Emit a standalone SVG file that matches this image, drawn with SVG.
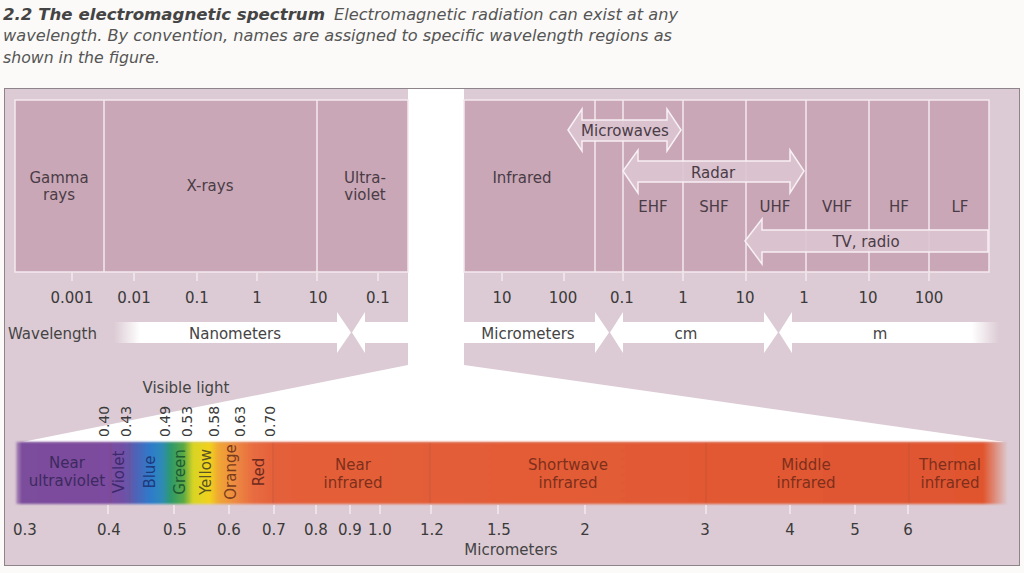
<svg xmlns="http://www.w3.org/2000/svg" width="1024" height="573" viewBox="0 0 1024 573">
<style>
.cap{font-family:"DejaVu Sans","Liberation Sans",sans-serif;font-style:italic;font-size:15px;fill:#555}
.capb{font-family:"DejaVu Sans","Liberation Sans",sans-serif;font-style:italic;font-weight:bold;font-size:15px;fill:#444}
.lb{font-family:"DejaVu Sans","Liberation Sans",sans-serif;font-size:15px;fill:#4a3c46;text-anchor:middle}
.num{font-family:"DejaVu Sans","Liberation Sans",sans-serif;font-size:15px;fill:#3a3a3a;text-anchor:middle}
.rnum{font-family:"DejaVu Sans","Liberation Sans",sans-serif;font-size:14px;fill:#3a3a3a}
.bl{font-family:"DejaVu Sans","Liberation Sans",sans-serif;font-size:15px;text-anchor:middle}
.box{fill:#c9a7b6;stroke:#f3e9ee;stroke-width:1.5}
.div{stroke:#f3e9ee;stroke-width:1.5}
.arr{fill:#dcc5d1;fill-opacity:0.9;stroke:#f7f0f4;stroke-width:1.5}
.tick{stroke:#f5eef2;stroke-width:1.3}
.wb{fill:#fff}
.sep{stroke:#8a4a40;stroke-opacity:0.25;stroke-width:1}
</style>
<defs>
<linearGradient id="spec" gradientUnits="userSpaceOnUse" x1="18" y1="0" x2="1006" y2="0">
<stop offset="0" stop-color="#7b4d9c"/>
<stop offset="0.0911" stop-color="#7d4c9f"/>
<stop offset="0.108" stop-color="#6f51a6"/>
<stop offset="0.119" stop-color="#4f62b6"/>
<stop offset="0.134" stop-color="#2f7bcb"/>
<stop offset="0.146" stop-color="#2f8bb5"/>
<stop offset="0.155" stop-color="#2e9a6a"/>
<stop offset="0.168" stop-color="#5daa44"/>
<stop offset="0.177" stop-color="#d8d424"/>
<stop offset="0.194" stop-color="#f2d21e"/>
<stop offset="0.203" stop-color="#f0a634"/>
<stop offset="0.222" stop-color="#ec8642"/>
<stop offset="0.238" stop-color="#e86c40"/>
<stop offset="0.26" stop-color="#e4603a"/>
<stop offset="1" stop-color="#e0552f"/>
</linearGradient>
<linearGradient id="fadeMask" gradientUnits="userSpaceOnUse" x1="14" y1="0" x2="1008" y2="0">
<stop offset="0" stop-color="#fff" stop-opacity="0.3"/>
<stop offset="0.008" stop-color="#fff" stop-opacity="1"/>
<stop offset="0.975" stop-color="#fff" stop-opacity="1"/>
<stop offset="1" stop-color="#fff" stop-opacity="0"/>
</linearGradient>
<mask id="barMask" maskUnits="userSpaceOnUse" x="0" y="430" width="1024" height="90">
<rect x="14" y="430" width="994" height="90" fill="url(#fadeMask)"/>
</mask>
<filter id="soft" x="-0.02" y="-0.1" width="1.04" height="1.2">
<feGaussianBlur stdDeviation="0.8"/>
</filter>
<linearGradient id="nmFade" gradientUnits="userSpaceOnUse" x1="114" y1="0" x2="140" y2="0">
<stop offset="0" stop-color="#fff" stop-opacity="0"/>
<stop offset="1" stop-color="#fff" stop-opacity="1"/>
</linearGradient>
<linearGradient id="mFade" gradientUnits="userSpaceOnUse" x1="972" y1="0" x2="999" y2="0">
<stop offset="0" stop-color="#fff" stop-opacity="1"/>
<stop offset="1" stop-color="#fff" stop-opacity="0"/>
</linearGradient>
</defs>

<rect width="1024" height="573" fill="#fbfaf8"/>

<g id="caption">
<text class="capb" x="3" y="20" textLength="322" lengthAdjust="spacingAndGlyphs">2.2  The electromagnetic spectrum</text>
<text class="cap" x="334" y="20" textLength="344" lengthAdjust="spacingAndGlyphs">Electromagnetic radiation can exist at any</text>
<text class="cap" x="3" y="41" textLength="669" lengthAdjust="spacingAndGlyphs">wavelength. By convention, names are assigned to specific wavelength regions as</text>
<text class="cap" x="3" y="63" textLength="157" lengthAdjust="spacingAndGlyphs">shown in the figure.</text>
</g>

<g id="panel">
<rect x="4.5" y="88.5" width="1015" height="477" fill="#dccbd4" stroke="#8c8488" stroke-width="1"/>
</g>

<g id="fan">
<polygon points="408,89 464,89 464,365 1005,442 22,442 408,365" fill="#ffffff"/>
</g>

<g id="band-short">
<rect class="box" x="15" y="100" width="393" height="172"/>
<line class="div" x1="104" y1="100" x2="104" y2="272"/>
<line class="div" x1="317" y1="100" x2="317" y2="272"/>
<text class="lb" x="59" y="183">Gamma</text>
<text class="lb" x="59" y="200">rays</text>
<text class="lb" x="210" y="191">X-rays</text>
<text class="lb" x="365" y="183">Ultra-</text>
<text class="lb" x="365" y="200">violet</text>
</g>

<g id="band-long">
<rect class="box" x="464" y="100" width="525" height="172"/>
<line class="div" x1="595" y1="100" x2="595" y2="272"/>
<line class="div" x1="623" y1="100" x2="623" y2="272"/>
<line class="div" x1="683" y1="100" x2="683" y2="272"/>
<line class="div" x1="746" y1="100" x2="746" y2="272"/>
<line class="div" x1="806" y1="100" x2="806" y2="272"/>
<line class="div" x1="869" y1="100" x2="869" y2="272"/>
<line class="div" x1="929" y1="100" x2="929" y2="272"/>
<text class="lb" x="522" y="183">Infrared</text>
<text class="lb" x="653" y="212">EHF</text>
<text class="lb" x="714" y="212">SHF</text>
<text class="lb" x="775" y="212">UHF</text>
<text class="lb" x="837" y="212">VHF</text>
<text class="lb" x="899" y="212">HF</text>
<text class="lb" x="960" y="212">LF</text>
</g>

<g id="connectors">
<g id="microwaves">
<polygon class="arr" points="568,130 582,109 582,120 667,120 667,109 681,130 667,151 667,141 582,141 582,151"/>
<text class="lb" x="625" y="136">Microwaves</text>
</g>
<g id="radar">
<polygon class="arr" points="623,171 638,150 638,161 790,161 790,150 804,171 790,193 790,182 638,182 638,193"/>
<text class="lb" x="713" y="178">Radar</text>
</g>
<g id="tvradio">
<polygon class="arr" points="745,241 762,219 762,230 988,230 988,252 762,252 762,264"/>
<text class="lb" x="866" y="247">TV, radio</text>
</g>
</g>

<g id="top-ticks">
<line class="tick" x1="72" y1="273" x2="72" y2="281"/>
<line class="tick" x1="134" y1="273" x2="134" y2="281"/>
<line class="tick" x1="197" y1="273" x2="197" y2="281"/>
<line class="tick" x1="257" y1="273" x2="257" y2="281"/>
<line class="tick" x1="317" y1="273" x2="317" y2="281"/>
<line class="tick" x1="378" y1="273" x2="378" y2="281"/>
<line class="tick" x1="502" y1="273" x2="502" y2="281"/>
<line class="tick" x1="564" y1="273" x2="564" y2="281"/>
<line class="tick" x1="623" y1="273" x2="623" y2="281"/>
<line class="tick" x1="683" y1="273" x2="683" y2="281"/>
<line class="tick" x1="746" y1="273" x2="746" y2="281"/>
<line class="tick" x1="806" y1="273" x2="806" y2="281"/>
<line class="tick" x1="869" y1="273" x2="869" y2="281"/>
<line class="tick" x1="929" y1="273" x2="929" y2="281"/>
</g>

<g id="wavelength-numbers">
<text class="num" x="72" y="303">0.001</text>
<text class="num" x="134" y="303">0.01</text>
<text class="num" x="197" y="303">0.1</text>
<text class="num" x="257" y="303">1</text>
<text class="num" x="318" y="303">10</text>
<text class="num" x="378" y="303">0.1</text>
<text class="num" x="502" y="303">10</text>
<text class="num" x="563" y="303">100</text>
<text class="num" x="622" y="303">0.1</text>
<text class="num" x="683" y="303">1</text>
<text class="num" x="745" y="303">10</text>
<text class="num" x="804" y="303">1</text>
<text class="num" x="868" y="303">10</text>
<text class="num" x="929" y="303">100</text>
</g>

<g id="units-row">
<polygon points="114,322 337,322 337,312 351,332.5 337,353 337,343 114,343" fill="url(#nmFade)"/>
<polygon class="wb" points="409,322 365,322 365,312 352,332.5 365,353 365,343 409,343"/>
<polygon class="wb" points="463,322 595,322 595,312 609,332.5 595,353 595,343 463,343"/>
<polygon class="wb" points="764,322 623,322 623,312 610,332.5 623,353 623,343 764,343 764,353 778,332.5 764,312"/>
<polygon points="999,322 792,322 792,312 779,332.5 792,353 792,343 999,343" fill="url(#mFade)"/>
<text class="num" x="8" y="339" style="text-anchor:start;fill:#444">Wavelength</text>
<text class="num" x="235" y="339" style="fill:#444">Nanometers</text>
<text class="num" x="528" y="339" style="fill:#444">Micrometers</text>
<text class="num" x="686" y="339" style="fill:#444">cm</text>
<text class="num" x="880" y="339" style="fill:#444">m</text>
</g>

<g id="visible-labels">
<text class="num" x="186" y="393" style="fill:#444">Visible light</text>
<text class="rnum" transform="translate(109,437) rotate(-90)">0.40</text>
<text class="rnum" transform="translate(131,437) rotate(-90)">0.43</text>
<text class="rnum" transform="translate(170,437) rotate(-90)">0.49</text>
<text class="rnum" transform="translate(192,437) rotate(-90)">0.53</text>
<text class="rnum" transform="translate(219,437) rotate(-90)">0.58</text>
<text class="rnum" transform="translate(245,437) rotate(-90)">0.63</text>
<text class="rnum" transform="translate(275,437) rotate(-90)">0.70</text>
</g>

<g id="spectrum-bar">
<g mask="url(#barMask)">
<rect x="16" y="442" width="992" height="62" fill="url(#spec)" filter="url(#soft)"/>
</g>
<line class="sep" x1="111" y1="443" x2="111" y2="503"/>
<line class="sep" x1="130" y1="443" x2="130" y2="503"/>
<line class="sep" x1="273" y1="443" x2="273" y2="503"/>
<line class="sep" x1="430" y1="443" x2="430" y2="503"/>
<line class="sep" x1="706" y1="443" x2="706" y2="503"/>
<line class="sep" x1="909" y1="443" x2="909" y2="503"/>
<text class="bl" x="67" y="468" fill="#3c2a5e">Near</text>
<text class="bl" x="67" y="486" fill="#3c2a5e">ultraviolet</text>
<text class="bl" transform="translate(124,472) rotate(-90)" fill="#3d2a6c">Violet</text>
<text class="bl" transform="translate(155,472) rotate(-90)" fill="#1e3a7c">Blue</text>
<text class="bl" transform="translate(185,472) rotate(-90)" fill="#1d5a32">Green</text>
<text class="bl" transform="translate(211,472) rotate(-90)" fill="#5a5322">Yellow</text>
<text class="bl" transform="translate(236,472) rotate(-90)" fill="#7a3a1e">Orange</text>
<text class="bl" transform="translate(264,472) rotate(-90)" fill="#6e2a1e">Red</text>
<text class="bl" x="353" y="470" fill="#7e2f1c">Near</text>
<text class="bl" x="353" y="488" fill="#7e2f1c">infrared</text>
<text class="bl" x="568" y="470" fill="#7e2f1c">Shortwave</text>
<text class="bl" x="568" y="488" fill="#7e2f1c">infrared</text>
<text class="bl" x="806" y="470" fill="#7e2f1c">Middle</text>
<text class="bl" x="806" y="488" fill="#7e2f1c">infrared</text>
<text class="bl" x="950" y="470" fill="#7e2f1c">Thermal</text>
<text class="bl" x="950" y="488" fill="#7e2f1c">infrared</text>
</g>

<g id="bottom-axis">
<line class="tick" x1="108" y1="505" x2="108" y2="514"/>
<line class="tick" x1="174" y1="505" x2="174" y2="514"/>
<line class="tick" x1="229" y1="505" x2="229" y2="514"/>
<line class="tick" x1="274" y1="505" x2="274" y2="514"/>
<line class="tick" x1="316" y1="505" x2="316" y2="514"/>
<line class="tick" x1="350" y1="505" x2="350" y2="514"/>
<line class="tick" x1="380" y1="505" x2="380" y2="514"/>
<line class="tick" x1="431" y1="505" x2="431" y2="514"/>
<line class="tick" x1="498" y1="505" x2="498" y2="514"/>
<line class="tick" x1="585" y1="505" x2="585" y2="514"/>
<line class="tick" x1="706" y1="505" x2="706" y2="514"/>
<line class="tick" x1="790" y1="505" x2="790" y2="514"/>
<line class="tick" x1="855" y1="505" x2="855" y2="514"/>
<line class="tick" x1="908" y1="505" x2="908" y2="514"/>
<text class="num" x="25" y="535">0.3</text>
<text class="num" x="109" y="535">0.4</text>
<text class="num" x="175" y="535">0.5</text>
<text class="num" x="229" y="535">0.6</text>
<text class="num" x="274" y="535">0.7</text>
<text class="num" x="316" y="535">0.8</text>
<text class="num" x="350" y="535">0.9</text>
<text class="num" x="380" y="535">1.0</text>
<text class="num" x="432" y="535">1.2</text>
<text class="num" x="499" y="535">1.5</text>
<text class="num" x="585" y="535">2</text>
<text class="num" x="705" y="535">3</text>
<text class="num" x="790" y="535">4</text>
<text class="num" x="855" y="535">5</text>
<text class="num" x="908" y="535">6</text>
<text class="num" x="511" y="555" style="fill:#444">Micrometers</text>
</g>
</svg>
